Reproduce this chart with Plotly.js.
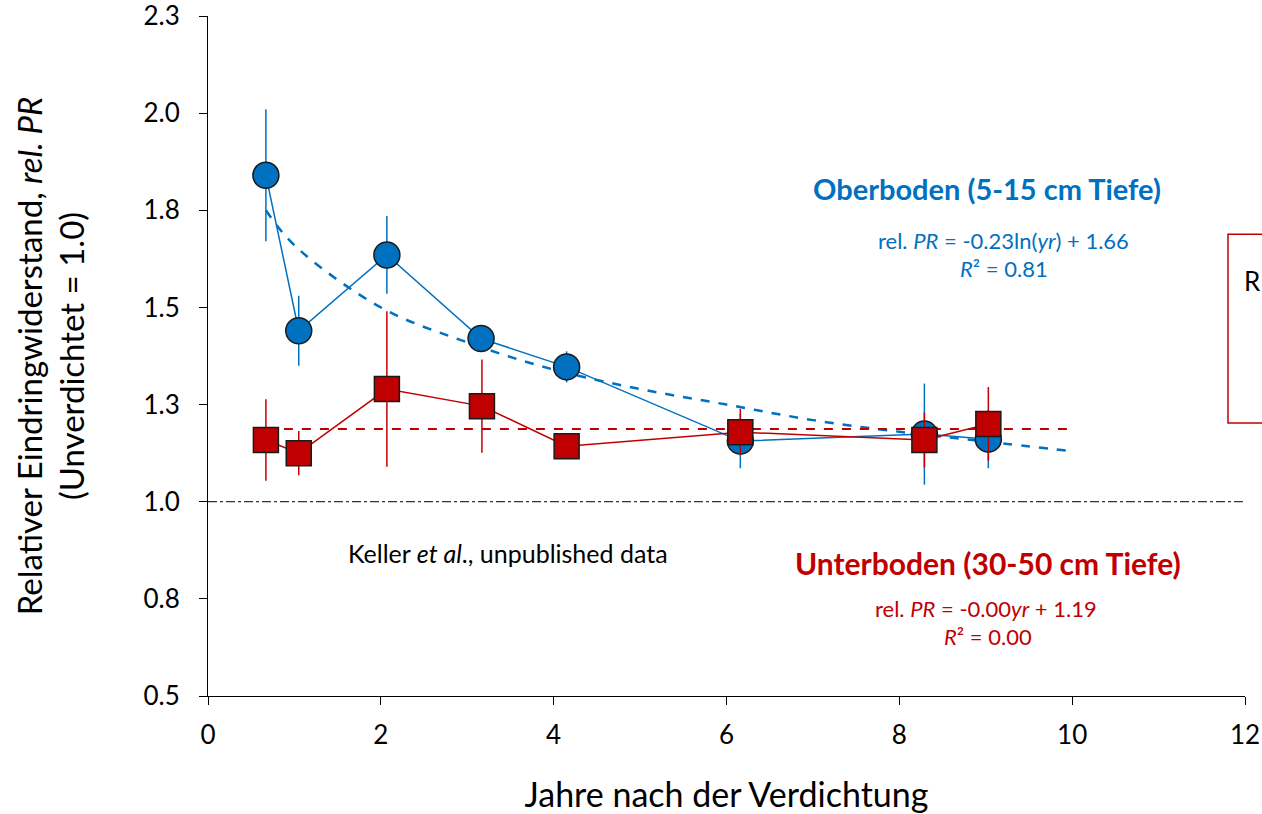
<!DOCTYPE html>
<html>
<head>
<meta charset="utf-8">
<script src="https://cdn.plot.ly/plotly-3.0.1.min.js"></script>
<style>html,body{margin:0;padding:0;background:#fff;}#chart{width:1262px;height:814px;}</style>
</head>
<body>
<div id="chart"></div>
<script>
// Oberboden (topsoil, 5-15 cm)
const topYears = [0.67, 1.05, 2.07, 3.16, 4.15, 6.16, 8.29, 9.03];
const topValues = [1.84, 1.44, 1.635, 1.42, 1.347, 1.156, 1.174, 1.161];
const topErrors = [0.17, 0.09, 0.10, 0.02, 0.04, 0.07, 0.13, 0.075];

// Unterboden (subsoil, 30-50 cm)
const subYears = [0.67, 1.05, 2.07, 3.17, 4.15, 6.16, 8.29, 9.03];
const subValues = [1.159, 1.125, 1.29, 1.246, 1.143, 1.179, 1.159, 1.20];
const subErrors = [0.105, 0.057, 0.20, 0.12, 0.02, 0.06, 0.07, 0.095];

// Trend lines
const topTrendYears = [0.67, 1, 2, 3, 4, 5, 6, 7, 8, 9, 10];
const topTrendValues = [1.75, 1.66, 1.50, 1.41, 1.34, 1.29, 1.25, 1.21, 1.18, 1.155, 1.13];
const subTrendYears = [0.67, 10];
const subTrendValues = [1.187, 1.187];

// Reference line (uncompacted = 1.0)
const refYears = [0, 12];
const refValues = [1.0, 1.0];

// Axis ticks
const yTickVals = [0.5, 0.75, 1.0, 1.25, 1.5, 1.75, 2.0, 2.25];
const yTickText = ['0.5', '0.8', '1.0', '1.3', '1.5', '1.8', '2.0', '2.3'];
const xTickVals = [0, 2, 4, 6, 8, 10, 12];

const BLUE = '#0070C0';
const RED = '#C00000';
const FONT = 'Lato, "Open Sans", sans-serif';

const traces = [
  {x: refYears, y: refValues, mode: 'lines', line: {color: '#000', width: 1, dash: 'dashdot'}, hoverinfo: 'skip'},
  {x: topTrendYears, y: topTrendValues, mode: 'lines', line: {color: BLUE, width: 2.5, dash: 'dash', shape: 'spline'}},
  {x: subTrendYears, y: subTrendValues, mode: 'lines', line: {color: RED, width: 2, dash: 'dash'}},
  {x: topYears, y: topValues, mode: 'lines+markers', name: 'Oberboden',
   line: {color: BLUE, width: 1.5},
   marker: {symbol: 'circle', size: 26, color: BLUE, line: {color: '#1a1a1a', width: 1.5}},
   error_y: {type: 'data', array: topErrors, visible: true, color: BLUE, thickness: 1.5, width: 0}},
  {x: subYears, y: subValues, mode: 'lines+markers', name: 'Unterboden',
   line: {color: RED, width: 1.5},
   marker: {symbol: 'square', size: 25, color: RED, line: {color: '#1a1a1a', width: 1.5}},
   error_y: {type: 'data', array: subErrors, visible: true, color: RED, thickness: 1.5, width: 0}}
];

const layout = {
  width: 1262, height: 814,
  margin: {l: 208, r: 17, t: 16, b: 118},
  paper_bgcolor: '#fff', plot_bgcolor: '#fff',
  showlegend: false,
  font: {family: FONT, color: '#000'},
  xaxis: {
    range: [0, 12], tickvals: xTickVals, ticks: 'outside', ticklen: 8, tickcolor: '#000',
    showline: true, linecolor: '#000', linewidth: 1, showgrid: false, zeroline: false,
    tickfont: {size: 26, family: FONT}, ticklabelstandoff: 8, ticklabeloverflow: 'allow',
    title: {text: 'Jahre nach der Verdichtung', font: {size: 34, family: FONT}, standoff: 34}
  },
  yaxis: {
    range: [0.5, 2.25], tickvals: yTickVals, ticktext: yTickText, ticks: 'outside', ticklen: 8, tickcolor: '#000',
    showline: true, linecolor: '#000', linewidth: 1, showgrid: false, zeroline: false,
    tickfont: {size: 26, family: FONT}, ticklabelstandoff: 14, ticklabeloverflow: 'allow',
    title: {text: 'Relativer Eindringwiderstand, <i>rel. PR</i><br>(Unverdichtet = 1.0)', font: {size: 33, family: FONT}, standoff: 48}
  },
  annotations: [
    {x: 9.01, y: 1.807, xref: 'x', yref: 'y', text: '<b>Oberboden (5-15 cm Tiefe)</b>', showarrow: false, font: {size: 29, color: BLUE, family: FONT}},
    {x: 9.21, y: 1.673, xref: 'x', yref: 'y', text: 'rel. <i>PR</i> = -0.23ln(<i>yr</i>) + 1.66', showarrow: false, font: {size: 22, color: BLUE, family: FONT}},
    {x: 9.21, y: 1.601, xref: 'x', yref: 'y', text: '<i>R</i>² = 0.81', showarrow: false, font: {size: 22, color: BLUE, family: FONT}},
    {x: 3.47, y: 0.868, xref: 'x', yref: 'y', text: 'Keller <i>et al</i>., unpublished data', showarrow: false, font: {size: 25, color: '#000', family: FONT}},
    {x: 9.03, y: 0.842, xref: 'x', yref: 'y', text: '<b>Unterboden (30-50 cm Tiefe)</b>', showarrow: false, font: {size: 30, color: RED, family: FONT}},
    {x: 9.0, y: 0.726, xref: 'x', yref: 'y', text: 'rel. <i>PR</i> = -0.00<i>yr</i> + 1.19', showarrow: false, font: {size: 22, color: RED, family: FONT}},
    {x: 9.03, y: 0.654, xref: 'x', yref: 'y', text: '<i>R</i>² = 0.00', showarrow: false, font: {size: 22, color: RED, family: FONT}},
    {x: 0.9975, y: 0.61, xref: 'paper', yref: 'paper', xanchor: 'left', yanchor: 'middle', text: 'R', showarrow: false, font: {size: 26, color: '#000', family: FONT}}
  ],
  shapes: [
    {type: 'rect', xref: 'paper', yref: 'paper', x0: 0.9836, x1: 1.1, y0: 0.4015, y1: 0.679,
     line: {color: RED, width: 1.5}, fillcolor: 'rgba(0,0,0,0)', layer: 'above'}
  ]
};

Plotly.newPlot('chart', traces, layout, {displayModeBar: false, staticPlot: true});
</script>
</body>
</html>
